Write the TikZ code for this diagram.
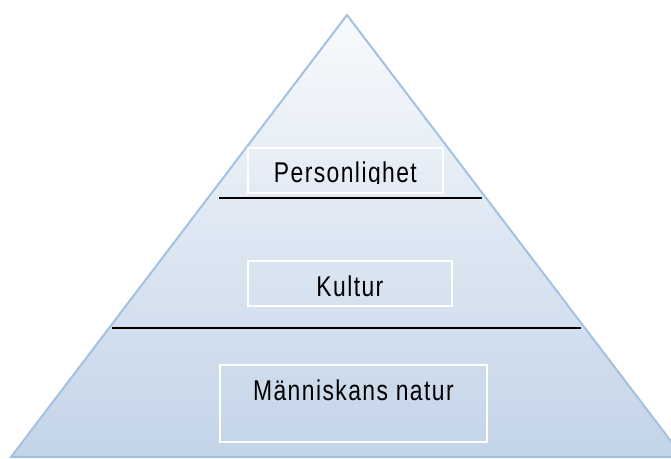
\documentclass[tikz,border=0pt]{standalone}
\usepackage{fontspec}
\newfontfamily\pyrfont[FakeStretch=0.8,LetterSpace=5]{Liberation Sans}
\definecolor{pyredge}{HTML}{A4C1DF}
\definecolor{pyrtop}{HTML}{F8FAFD}
\definecolor{pyrbot}{HTML}{C3D4E8}
\tikzset{pyramid edge/.style={draw=pyredge, line width=2pt, line join=miter}}
\tikzset{level box/.style={draw=white, line width=1.8pt, anchor=north west, inner sep=0pt},
         level label/.style={font=\pyrfont\fontsize{28.6}{30}\selectfont, anchor=base, inner sep=0pt},
         divider/.style={line width=1.8pt}}

\begin{document}
\begin{tikzpicture}[x=1pt,y=-1pt]
    \useasboundingbox (0,0) rectangle (671,458);
    \coordinate (apex) at (347,15);
    \coordinate (baseL) at (11,457);
    \coordinate (baseR) at (683,457);
    \shade[top color=pyrtop, bottom color=pyrbot] (apex) -- (baseR) -- (baseL) -- cycle;
    \draw[pyramid edge] (apex) -- (baseR) -- (baseL) -- cycle;
    %dividers between the levels
    \coordinate (div1L) at (219,198);
    \coordinate (div1R) at (482,198);
    \coordinate (div2L) at (112,328);
    \coordinate (div2R) at (581,328);
    \draw[divider] (div1L) -- (div1R);
    \draw[divider] (div2L) -- (div2R);
    %boxes
    \node[level box, minimum width=195, minimum height=45] (persbox) at (247,147) {};
    \node[level box, minimum width=204, minimum height=45] (kultbox) at (247,260) {};
    \node[level box, minimum width=267, minimum height=77] (natbox) at (219,364) {};
    \begin{scope}
      \clip (persbox.north west) rectangle ([yshift=10.5]persbox.south east);
      \node[level label] (perslbl) at ([yshift=-35]persbox.north) {Personlighet};
    \end{scope}
    \node[level label] (kultlbl) at ([yshift=-36]kultbox.north) {Kultur};
    \node[level label] (natlbl) at ([yshift=-36]natbox.north) {Människans natur};
  \end{tikzpicture}
\end{document}
